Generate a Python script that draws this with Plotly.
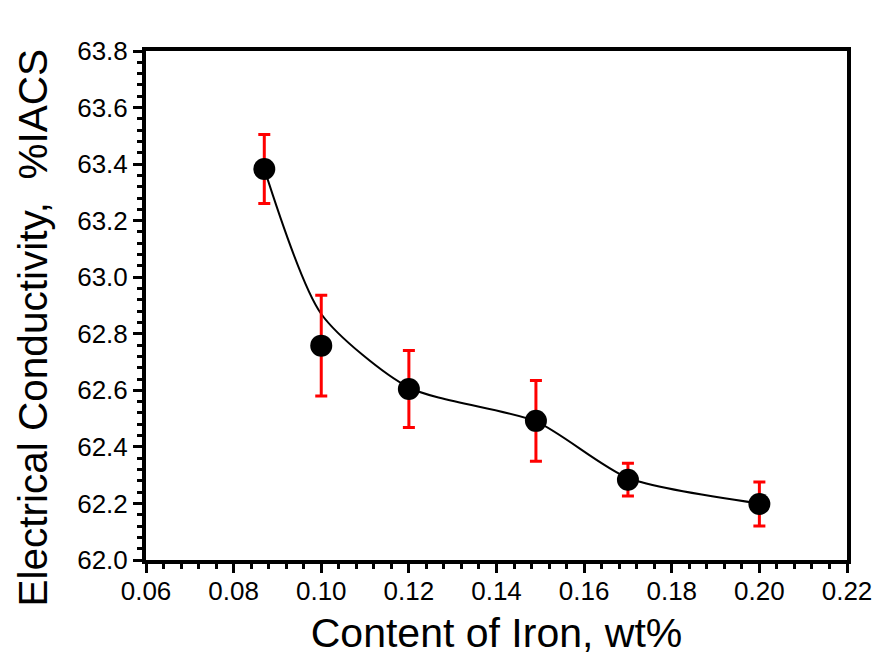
import plotly.graph_objects as go

iron = [0.087, 0.100, 0.120, 0.149, 0.170, 0.200]
conductivity = [63.383, 62.758, 62.605, 62.492, 62.284, 62.198]
err = [0.122, 0.178, 0.136, 0.143, 0.058, 0.078]

# smooth fitted curve anchor points
curve_x = [0.087, 0.100, 0.120, 0.149, 0.170, 0.200]
curve_y = [63.383, 62.870, 62.610, 62.490, 62.290, 62.200]

x_title = "Content of Iron, wt%"
y_title = "Electrical Conductivity,  %IACS"

FONT = "Liberation Sans, Arial, sans-serif"

fig = go.Figure()
fig.add_trace(go.Scatter(
    x=curve_x, y=curve_y, mode="lines",
    line=dict(color="black", width=2, shape="spline", smoothing=0.7),
    hoverinfo="skip", showlegend=False))
fig.add_trace(go.Scatter(
    x=iron, y=conductivity, mode="markers",
    marker=dict(color="black", size=22),
    error_y=dict(type="data", array=err, visible=True, color="red",
                 thickness=3, width=6),
    showlegend=False))

axis_common = dict(
    showline=True, linecolor="black", linewidth=4, mirror=True,
    ticks="outside", ticklen=9, tickwidth=3, tickcolor="black",
    showgrid=False, zeroline=False, automargin=False,
    tickfont=dict(family=FONT, size=26, color="black"),
)

fig.update_xaxes(
    range=[0.06, 0.22], dtick=0.02, tick0=0.06, tickformat=".2f",
    ticklabelstandoff=-4,
    minor=dict(dtick=0.004, ticks="outside", ticklen=5, tickwidth=3,
               tickcolor="black", showgrid=False),
    title=dict(text=x_title, font=dict(family=FONT, size=41, color="black"),
               standoff=14),
    **axis_common)
fig.update_yaxes(
    range=[62.0, 63.8], dtick=0.2, tick0=62.0, tickformat=".1f",
    minor=dict(dtick=0.04, ticks="outside", ticklen=5, tickwidth=3,
               tickcolor="black", showgrid=False),
    **axis_common)

fig.add_annotation(
    text=y_title, textangle=-90, showarrow=False,
    xref="paper", yref="paper", x=-0.1612, y=0.4568,
    xanchor="center", yanchor="middle",
    font=dict(family=FONT, size=40.5, color="black"))

fig.update_layout(
    width=885, height=658,
    margin=dict(l=138, r=46, t=43, b=106),
    paper_bgcolor="white", plot_bgcolor="white",
)

fig.write_html("out.html")
